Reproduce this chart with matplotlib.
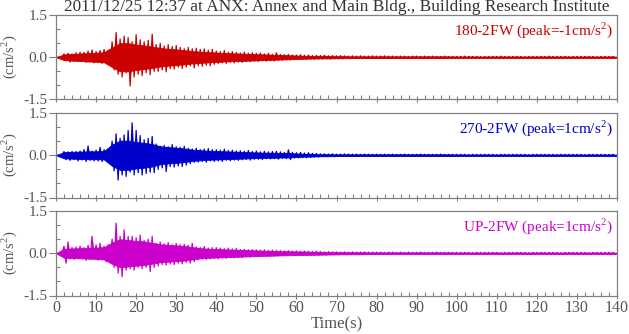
import numpy as np
import matplotlib
matplotlib.use("Agg")
import matplotlib.pyplot as plt
from matplotlib.ticker import MultipleLocator, FixedLocator

plt.rcParams['font.family'] = ['Liberation Serif', 'DejaVu Serif']
plt.rcParams['mathtext.fontset'] = 'custom'
plt.rcParams['mathtext.rm'] = 'Liberation Serif'

title = "2011/12/25 12:37 at ANX: Annex and Main Bldg., Building Research Institute"
channel_labels = ["180-2FW (peak=-1cm/s$^2$)", "270-2FW (peak=1cm/s$^2$)", "UP-2FW (peak=1cm/s$^2$)"]
channel_colors = ["#cc0000", "#0000cc", "#cc00cc"]

# sample times (s): one positive and one negative peak read per second
times = list(range(0, 140))
# times (s) at which the width of the dense body of each trace was read
core_times = list(range(0, 141, 2))

# 180-2FW peaks (cm/s^2)
red_up = [0, 0, 0.12, 0.14, 0.12, 0.16, 0.18, 0.17, 0.22, 0.26,
          0.2, 0.24, 0.28, 0.25, 0.55, 0.88, 0.65, 0.75, 0.7, 0.55,
          0.8, 0.62, 0.55, 0.6, 0.82, 0.45, 0.5, 0.4, 0.45, 0.38,
          0.42, 0.35, 0.3, 0.35, 0.3, 0.32, 0.28, 0.3, 0.25, 0.28,
          0.22, 0.2, 0.24, 0.18, 0.2, 0.17, 0.15, 0.18, 0.14, 0.16,
          0.14, 0.15, 0.12, 0.14, 0.1, 0.16, 0.1, 0.09, 0.1, 0.08,
          0.08, 0.09, 0.07, 0.08, 0.06, 0.07, 0.06, 0.07, 0.05, 0.06,
          0.05, 0.06, 0.05, 0.04, 0.05, 0.04, 0.05, 0.04, 0.04, 0.05,
          0.04, 0.04, 0.05, 0.04, 0.04, 0.03, 0.04, 0.04, 0.03, 0.04,
          0.04, 0.03, 0.04, 0.03, 0.04, 0.03, 0.03, 0.04, 0.03, 0.03,
          0.03, 0.03, 0.04, 0.03, 0.03, 0.03, 0.02, 0.03, 0.03, 0.03,
          0.03, 0.04, 0.03, 0.03, 0.03, 0.03, 0.03, 0.02, 0.03, 0.03,
          0.03, 0.03, 0.03, 0.04, 0.03, 0.03, 0.03, 0.03, 0.02, 0.03,
          0.03, 0.03, 0.03, 0.03, 0.03, 0.02, 0.03, 0.03, 0.03, 0.03]
red_lo = [0, 0, -0.12, -0.17, -0.14, -0.15, -0.14, -0.18, -0.16, -0.2,
          -0.18, -0.22, -0.2, -0.25, -0.45, -0.6, -0.7, -0.55, -1.02, -0.7,
          -0.6, -0.65, -0.55, -0.62, -0.5, -0.5, -0.45, -0.52, -0.4, -0.42,
          -0.35, -0.4, -0.35, -0.3, -0.38, -0.3, -0.32, -0.28, -0.3, -0.25,
          -0.22, -0.2, -0.22, -0.18, -0.2, -0.17, -0.18, -0.15, -0.16, -0.14,
          -0.15, -0.12, -0.14, -0.12, -0.13, -0.1, -0.1, -0.09, -0.1, -0.08,
          -0.08, -0.07, -0.08, -0.06, -0.07, -0.06, -0.06, -0.05, -0.06, -0.05,
          -0.05, -0.05, -0.04, -0.05, -0.04, -0.04, -0.05, -0.04, -0.04, -0.04,
          -0.04, -0.03, -0.04, -0.03, -0.04, -0.03, -0.04, -0.03, -0.04, -0.03,
          -0.03, -0.04, -0.03, -0.03, -0.04, -0.03, -0.03, -0.03, -0.04, -0.03,
          -0.03, -0.03, -0.03, -0.02, -0.03, -0.03, -0.03, -0.03, -0.03, -0.02,
          -0.03, -0.03, -0.03, -0.03, -0.02, -0.03, -0.03, -0.03, -0.03, -0.03,
          -0.03, -0.02, -0.03, -0.03, -0.03, -0.03, -0.03, -0.02, -0.03, -0.03,
          -0.03, -0.03, -0.02, -0.03, -0.03, -0.03, -0.03, -0.03, -0.02, -0.03]
red_core = [0, 0.1, 0.12, 0.13, 0.15, 0.16, 0.18, 0.35, 0.5, 0.5,
            0.45, 0.42, 0.38, 0.33, 0.3, 0.28, 0.25, 0.22, 0.2, 0.18,
            0.17, 0.15, 0.14, 0.13, 0.12, 0.11, 0.1, 0.09, 0.08, 0.07,
            0.06, 0.05, 0.045, 0.04, 0.04, 0.035, 0.035, 0.03, 0.03, 0.03,
            0.03, 0.03, 0.03, 0.03, 0.03, 0.03, 0.03, 0.03, 0.03, 0.03,
            0.025, 0.025, 0.025, 0.025, 0.025, 0.025, 0.025, 0.025, 0.025, 0.025,
            0.025, 0.025, 0.025, 0.025, 0.025, 0.025, 0.025, 0.025, 0.025, 0.025, 0.025]

# 270-2FW peaks (cm/s^2)
blue_up = [0, 0, 0.13, 0.12, 0.14, 0.13, 0.15, 0.2, 0.33, 0.15,
           0.18, 0.28, 0.2, 0.22, 0.5, 0.76, 0.6, 0.72, 0.88, 1.15,
           0.88, 0.7, 0.55, 0.6, 0.67, 0.4, 0.32, 0.35, 0.3, 0.38,
           0.3, 0.28, 0.32, 0.25, 0.22, 0.25, 0.2, 0.22, 0.24, 0.2,
           0.2, 0.18, 0.22, 0.17, 0.18, 0.15, 0.16, 0.14, 0.17, 0.13,
           0.15, 0.12, 0.14, 0.12, 0.13, 0.14, 0.12, 0.1, 0.19, 0.1,
           0.09, 0.1, 0.08, 0.09, 0.07, 0.06, 0.05, 0.05, 0.04, 0.05,
           0.04, 0.04, 0.05, 0.04, 0.04, 0.04, 0.03, 0.04, 0.04, 0.03,
           0.04, 0.03, 0.04, 0.03, 0.04, 0.03, 0.03, 0.04, 0.03, 0.03,
           0.03, 0.04, 0.03, 0.03, 0.03, 0.03, 0.04, 0.03, 0.03, 0.03,
           0.03, 0.03, 0.03, 0.02, 0.03, 0.03, 0.03, 0.03, 0.03, 0.03,
           0.02, 0.03, 0.03, 0.03, 0.03, 0.03, 0.03, 0.03, 0.02, 0.03,
           0.03, 0.03, 0.03, 0.03, 0.03, 0.02, 0.03, 0.03, 0.03, 0.03,
           0.03, 0.03, 0.02, 0.03, 0.03, 0.03, 0.03, 0.03, 0.03, 0.03]
blue_lo = [0, 0, -0.15, -0.18, -0.15, -0.2, -0.17, -0.22, -0.18, -0.2,
           -0.2, -0.22, -0.2, -0.18, -0.55, -0.88, -0.7, -0.75, -0.6, -0.7,
           -0.62, -0.7, -0.65, -0.6, -0.62, -0.5, -0.45, -0.58, -0.4, -0.42,
           -0.38, -0.4, -0.35, -0.3, -0.25, -0.24, -0.22, -0.25, -0.2, -0.22,
           -0.2, -0.22, -0.18, -0.2, -0.17, -0.18, -0.16, -0.15, -0.17, -0.14,
           -0.14, -0.15, -0.12, -0.13, -0.12, -0.14, -0.1, -0.12, -0.15, -0.1,
           -0.09, -0.08, -0.09, -0.07, -0.06, -0.06, -0.05, -0.05, -0.04, -0.05,
           -0.04, -0.04, -0.04, -0.03, -0.04, -0.04, -0.03, -0.04, -0.03, -0.04,
           -0.03, -0.04, -0.03, -0.03, -0.04, -0.03, -0.03, -0.03, -0.04, -0.03,
           -0.03, -0.03, -0.03, -0.04, -0.03, -0.03, -0.03, -0.03, -0.03, -0.03,
           -0.03, -0.02, -0.03, -0.03, -0.03, -0.03, -0.03, -0.02, -0.03, -0.03,
           -0.03, -0.03, -0.03, -0.03, -0.02, -0.03, -0.03, -0.03, -0.03, -0.03,
           -0.02, -0.03, -0.03, -0.03, -0.03, -0.03, -0.02, -0.03, -0.03, -0.03,
           -0.03, -0.03, -0.03, -0.02, -0.03, -0.03, -0.03, -0.03, -0.02, -0.03]
blue_core = [0, 0.11, 0.12, 0.13, 0.14, 0.14, 0.15, 0.38, 0.52, 0.52,
             0.47, 0.44, 0.4, 0.32, 0.29, 0.27, 0.24, 0.2, 0.18, 0.16,
             0.15, 0.14, 0.13, 0.12, 0.11, 0.1, 0.09, 0.09, 0.08, 0.08,
             0.06, 0.05, 0.045, 0.035, 0.035, 0.03, 0.03, 0.03, 0.03, 0.03,
             0.03, 0.03, 0.03, 0.03, 0.03, 0.03, 0.03, 0.03, 0.03, 0.03,
             0.025, 0.025, 0.025, 0.025, 0.025, 0.025, 0.025, 0.025, 0.025, 0.025,
             0.025, 0.025, 0.025, 0.025, 0.025, 0.025, 0.025, 0.025, 0.025, 0.025, 0.025]

# UP-2FW peaks (cm/s^2)
mag_up = [0, 0, 0.25, 0.4, 0.2, 0.22, 0.25, 0.2, 0.28, 0.6,
          0.3, 0.35, 0.25, 0.3, 0.5, 1.07, 0.6, 0.83, 0.6, 0.6,
          0.55, 0.65, 0.45, 0.5, 0.6, 0.35, 0.4, 0.33, 0.38, 0.3,
          0.35, 0.3, 0.32, 0.28, 0.35, 0.22, 0.2, 0.24, 0.18, 0.2,
          0.2, 0.18, 0.16, 0.18, 0.15, 0.17, 0.13, 0.14, 0.12, 0.13,
          0.12, 0.11, 0.12, 0.1, 0.11, 0.1, 0.09, 0.08, 0.09, 0.08,
          0.08, 0.07, 0.08, 0.07, 0.06, 0.07, 0.06, 0.05, 0.06, 0.05,
          0.05, 0.04, 0.05, 0.04, 0.05, 0.04, 0.04, 0.05, 0.04, 0.04,
          0.04, 0.04, 0.03, 0.04, 0.04, 0.03, 0.04, 0.03, 0.04, 0.03,
          0.03, 0.04, 0.03, 0.03, 0.03, 0.04, 0.03, 0.03, 0.03, 0.03,
          0.03, 0.03, 0.03, 0.03, 0.02, 0.03, 0.03, 0.03, 0.03, 0.03,
          0.03, 0.02, 0.03, 0.03, 0.03, 0.03, 0.03, 0.03, 0.02, 0.03,
          0.03, 0.03, 0.03, 0.03, 0.03, 0.03, 0.02, 0.03, 0.03, 0.03,
          0.03, 0.03, 0.03, 0.02, 0.03, 0.03, 0.03, 0.03, 0.03, 0.03]
mag_lo = [0, 0, -0.35, -0.2, -0.22, -0.18, -0.2, -0.25, -0.22, -0.2,
          -0.25, -0.22, -0.3, -0.25, -0.5, -0.7, -0.83, -0.6, -0.55, -0.6,
          -0.5, -0.55, -0.5, -0.65, -0.5, -0.45, -0.4, -0.42, -0.38, -0.4,
          -0.35, -0.38, -0.32, -0.35, -0.3, -0.22, -0.2, -0.22, -0.2, -0.18,
          -0.2, -0.17, -0.18, -0.15, -0.16, -0.14, -0.15, -0.12, -0.13, -0.12,
          -0.12, -0.1, -0.11, -0.1, -0.1, -0.09, -0.09, -0.08, -0.08, -0.08,
          -0.07, -0.07, -0.06, -0.07, -0.06, -0.06, -0.05, -0.06, -0.05, -0.05,
          -0.05, -0.04, -0.05, -0.04, -0.04, -0.05, -0.04, -0.04, -0.04, -0.04,
          -0.04, -0.03, -0.04, -0.04, -0.03, -0.04, -0.03, -0.03, -0.04, -0.03,
          -0.03, -0.03, -0.04, -0.03, -0.03, -0.03, -0.03, -0.04, -0.03, -0.03,
          -0.03, -0.03, -0.02, -0.03, -0.03, -0.03, -0.03, -0.03, -0.03, -0.02,
          -0.03, -0.03, -0.03, -0.03, -0.03, -0.02, -0.03, -0.03, -0.03, -0.03,
          -0.03, -0.02, -0.03, -0.03, -0.03, -0.03, -0.03, -0.03, -0.02, -0.03,
          -0.03, -0.03, -0.03, -0.03, -0.02, -0.03, -0.03, -0.03, -0.03, -0.03]
mag_core = [0, 0.16, 0.17, 0.18, 0.19, 0.2, 0.22, 0.38, 0.5, 0.47,
            0.44, 0.42, 0.37, 0.32, 0.3, 0.28, 0.26, 0.22, 0.18, 0.16,
            0.15, 0.14, 0.13, 0.12, 0.11, 0.1, 0.09, 0.085, 0.075, 0.07,
            0.065, 0.06, 0.055, 0.05, 0.045, 0.04, 0.035, 0.035, 0.035, 0.03,
            0.03, 0.03, 0.03, 0.03, 0.03, 0.03, 0.03, 0.03, 0.03, 0.03,
            0.025, 0.025, 0.025, 0.025, 0.025, 0.025, 0.025, 0.025, 0.025, 0.025,
            0.025, 0.025, 0.025, 0.025, 0.025, 0.025, 0.025, 0.025, 0.025, 0.025, 0.025]

series_up = [red_up, blue_up, mag_up]
series_lo = [red_lo, blue_lo, mag_lo]
series_core = [red_core, blue_core, mag_core]

x_major = list(range(0, 141, 10))
y_major = [-1.5, 0.0, 1.5]
y_major_labels = ["-1.5", "0.0", "1.5"]

GRAY = "#808080"
TXT = "#555555"

fig = plt.figure(figsize=(6.29, 3.34), dpi=100)
W, H = 629.0, 334.0
tops = [15, 113, 211]
ph = 84.5
for k in range(3):
    ax = fig.add_axes([56 / W, 1 - (tops[k] + ph) / H, 561 / W, ph / H])
    t = np.asarray(times, dtype=float)
    up = np.asarray(series_up[k])
    lo = np.asarray(series_lo[k])
    ct = np.asarray(core_times, dtype=float)
    core = np.asarray(series_core[k])
    # dense body of the trace
    ax.fill_between(ct, -core, core, color=channel_colors[k], lw=0.6,
                    edgecolor=channel_colors[k])
    # spikes: alternating positive and negative peak of each second
    xs = np.empty(2 * len(t))
    ys = np.empty(2 * len(t))
    xs[0::2] = t
    xs[1::2] = t + 0.5
    ys[0::2] = up
    ys[1::2] = lo
    ax.fill_between(xs, 0, ys, color=channel_colors[k], lw=0, interpolate=True)
    ax.plot(xs, ys, color=channel_colors[k], lw=0.9)
    ax.set_xlim(0, 140)
    ax.set_ylim(-1.5, 1.5)
    for s in ax.spines.values():
        s.set_color(GRAY)
        s.set_linewidth(0.9)
    ax.xaxis.set_major_locator(FixedLocator(x_major))
    ax.xaxis.set_minor_locator(MultipleLocator(2))
    ax.yaxis.set_major_locator(FixedLocator(y_major))
    ax.yaxis.set_minor_locator(MultipleLocator(0.5))
    ax.set_yticklabels(y_major_labels)
    ax.tick_params(axis='x', which='major', direction='inout', length=5, width=0.8,
                   color=GRAY, labelcolor=TXT, labelsize=11.5, pad=1)
    ax.tick_params(axis='x', which='minor', direction='in', length=3, width=0.8, color=GRAY)
    ax.tick_params(axis='y', which='major', direction='out', length=5, width=0.8,
                   color=GRAY, labelcolor=TXT, labelsize=11, pad=1)
    ax.tick_params(axis='y', which='minor', direction='in', length=3, width=0.8, color=GRAY)
    ax.tick_params(top=False, right=False)
    if k < 2:
        ax.tick_params(axis='x', labelbottom=False)
    else:
        ax.set_xlabel("Time(s)", color=TXT, fontsize=12, labelpad=0)
    ax.set_ylabel("(cm/s$^2$)", color=TXT, fontsize=10.5, labelpad=3)
    ax.text(0.993, 0.94, channel_labels[k], transform=ax.transAxes, ha='right', va='top',
            color=channel_colors[k], fontsize=11)
    if k == 0:
        ax.set_title(title, fontsize=12.4, color="#333333", pad=1)

fig.savefig("out.png", dpi=100)
